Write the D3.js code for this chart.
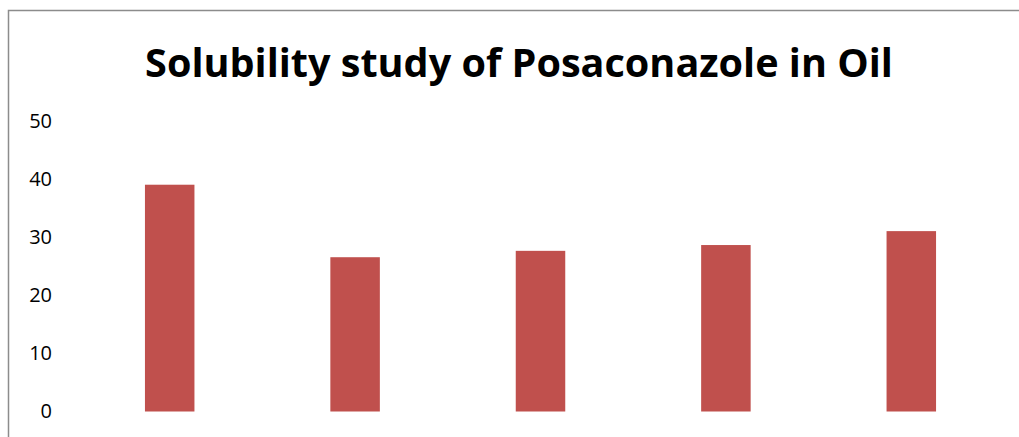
<!DOCTYPE html>
<html>
<head>
<meta charset="utf-8">
<script src="https://cdn.jsdelivr.net/npm/d3@7"></script>
<style>
  body { margin: 0; background: #fff; }
  svg { display: block; }
</style>
</head>
<body>
<div id="chart"></div>
<script>
// Data
const categories = ["Oil 1", "Oil 2", "Oil 3", "Oil 4", "Oil 5"];
const solubility = [39.1, 26.6, 27.7, 28.7, 31.1];
const yTicks = [0, 10, 20, 30, 40, 50];
const chartTitle = "Solubility study of Posaconazole in Oil";

(function(){
    const W = 1019, H = 437;
    const margin = {top: 121.5, right: 15, bottom: 25.5, left: 77};

    const svg = d3.select("#chart")
        .append("svg")
        .attr("width", W)
        .attr("height", H);

    // chart area frame (only left and top edges visible in the crop)
    svg.append("rect")
        .attr("x", 8.5)
        .attr("y", 10.5)
        .attr("width", W + 20)
        .attr("height", H + 20)
        .style("fill", "none")
        .style("stroke", "#8c8c8c")
        .style("stroke-width", 1.5);

    const x = d3.scaleBand()
        .domain(categories)
        .range([margin.left, W - margin.right])
        .paddingInner(0.733)
        .paddingOuter(0.3665);

    const y = d3.scaleLinear()
        .domain([0, 50])
        .range([H - margin.bottom, margin.top]);

    // y axis labels, no line / ticks
    const yAxis = svg.append("g")
        .attr("transform", "translate(52,0)")
        .call(d3.axisLeft(y).tickValues(yTicks).tickSize(0).tickPadding(0));
    yAxis.select(".domain").remove();
    yAxis.selectAll("text")
        .style("font-family", "'Open Sans', 'Liberation Sans', sans-serif")
        .style("font-size", "20px")
        .style("fill", "#000");

    // bars
    svg.selectAll(".bar")
        .data(solubility)
        .enter().append("rect")
        .attr("class", "bar")
        .attr("x", (d, i) => x(categories[i]))
        .attr("width", x.bandwidth())
        .attr("y", d => y(d))
        .attr("height", d => y(0) - y(d))
        .style("fill", "#c0504d");

    // title
    const title = svg.append("text")
        .attr("x", 519)
        .attr("y", 77)
        .attr("text-anchor", "middle")
        .style("font-family", "'Open Sans', 'Liberation Sans', sans-serif")
        .style("font-weight", "bold")
        .style("font-size", "40px")
        .style("fill", "#000")
        .text(chartTitle);
    // fit to the width seen in the reference
    const tw = title.node().getComputedTextLength();
    title.style("font-size", (40 * 748 / tw) + "px");
})();
</script>
</body>
</html>
